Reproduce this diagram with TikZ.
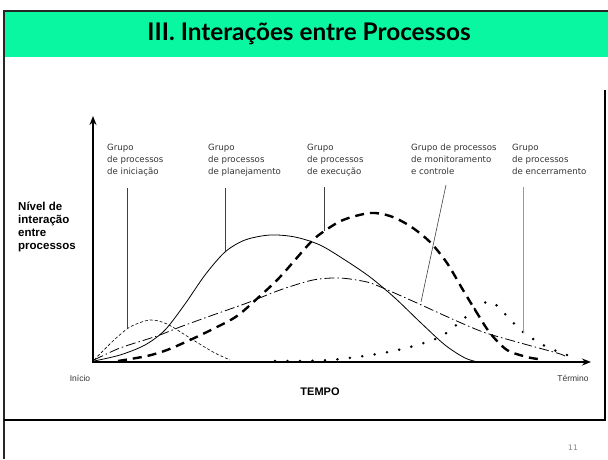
\documentclass[tikz,border=0pt]{standalone}
\usepackage{fontspec}
\setmainfont{DejaVu Sans}
\newfontfamily\titlefont{Lato}
\newfontfamily\axisfont{Liberation Sans}
\usepackage{tikz}
\usetikzlibrary{arrows.meta,calc}
\definecolor{slidegreen}{RGB}{8,247,160}

\begin{document}
\begin{tikzpicture}[x=1pt,y=-1pt,
    every node/.style={inner sep=0pt},
    grplabel/.style={anchor=north west,align=left,font=\fontsize{8.6}{12}\selectfont,text=black!80},
    leader/.style={line width=0.6pt,black!75},
    axisline/.style={line width=2pt,-{Stealth[length=9pt,width=7pt]}},
    iniline/.style={line width=0.6pt,dash pattern=on 3pt off 2pt},
    planline/.style={line width=0.8pt},
    execline/.style={line width=2.4pt,dash pattern=on 9pt off 6pt},
    monline/.style={line width=0.8pt,dash pattern=on 10pt off 3pt on 1.5pt off 3pt},
    encline/.style={line width=2.8pt,line cap=round,dash pattern=on 0pt off 12.5pt}]

    % Define the page size
    \useasboundingbox (0,0) rectangle (608,459);

    % slide frame and title bar
    \fill[slidegreen] (5,12) rectangle (608,57);
    \draw[line width=1.8pt,black!85] (4,459) -- (4,11) -- (608,11);
    \node (title) at (309,34) {\titlefont\bfseries\fontsize{24.3}{27}\selectfont III. Interações entre Processos};

    % picture frame
    \draw[line width=1.4pt] (4,420) -- (605,420) -- (605,90);
    \node[text=black!50,font=\fontsize{7.5}{8}\selectfont] (pagenum) at (573,448) {11};

    % axes
    \coordinate (orig) at (93,362);
    \coordinate (ytop) at (93,116);
    \coordinate (xend) at (591,362);
    \draw[axisline,line width=2.4pt] (orig) -- (ytop);
    \draw[axisline] ($(orig)+(-1,0)$) -- (xend);

    \node[anchor=north west,align=left,font=\axisfont\bfseries\fontsize{11.5}{13}\selectfont] (ylabel) at (18,202) {Nível de\\interação\\entre\\processos};
    \node[font=\axisfont\fontsize{8.5}{10}\selectfont,text=black!80] (start) at (80,378) {Início};
    \node[font=\axisfont\fontsize{8.5}{10}\selectfont,text=black!80] (finish) at (573,378) {Término};
    \node[font=\axisfont\bfseries\fontsize{11}{12}\selectfont] (tempo) at (320,392) {TEMPO};

    % curves
    \draw[iniline] plot[smooth] coordinates {(94,360) (113,341) (130,327) (150,320) (167,324) (190,338) (213,352) (230,360)};
    \draw[planline] plot[smooth] coordinates {(94,361) (120,355) (145,345) (165,330) (185,304) (205,275) (225,252) (245,240) (270,235) (295,237) (320,245) (345,260) (370,277) (395,298) (420,322) (445,345) (465,358) (478,362)};
    \draw[execline] plot[smooth] coordinates {(118,361) (147,356) (167,350) (190,340) (213,329) (237,316) (260,296) (280,277) (310,243) (323,232) (343,220) (370,213) (390,216) (410,226) (430,242) (447,263) (463,290) (477,313) (490,333) (507,350) (527,357) (538,359)};
    \draw[monline] plot[smooth] coordinates {(94,360) (120,348) (157,336) (180,327) (213,315) (247,303) (280,290) (313,280) (340,278) (367,282) (383,288) (417,303) (450,318) (483,332) (517,342) (557,353) (565,356)};
    \draw[encline] plot[smooth] coordinates {(275,361) (303,361) (330,360) (357,357) (383,353) (410,347) (440,337) (460,322) (480,305) (492,302) (503,312) (523,332) (547,347) (575,358)};

    % group labels
    \node[grplabel] (grpIni) at (107,144) {Grupo\\de processos\\de iniciação};
    \node[grplabel] (grpPlan) at (208,144) {Grupo\\de processos\\de planejamento};
    \node[grplabel] (grpExec) at (307,144) {Grupo\\de processos\\de execução};
    \node[grplabel] (grpMon) at (411,144) {Grupo de processos\\de monitoramento\\e controle};
    \node[grplabel] (grpEnc) at (512,144) {Grupo\\de processos\\de encerramento};

    % leader lines
    \coordinate (iniTop) at (127,188);   \coordinate (iniEnd) at (127,329);
    \coordinate (planTop) at (225,188);  \coordinate (planEnd) at (225,251);
    \coordinate (execTop) at (324,187);  \coordinate (execEnd) at (324,231);
    \coordinate (monTop) at (446,185);   \coordinate (monEnd) at (421,302);
    \coordinate (encTop) at (523,187);   \coordinate (encEnd) at (523,333);
    \draw[leader] (iniTop) -- (iniEnd);
    \draw[leader] (planTop) -- (planEnd);
    \draw[leader] (execTop) -- (execEnd);
    \draw[leader] (monTop) -- (monEnd);
    \draw[leader,black!40] (encTop) -- (encEnd);

\end{tikzpicture}
\end{document}
